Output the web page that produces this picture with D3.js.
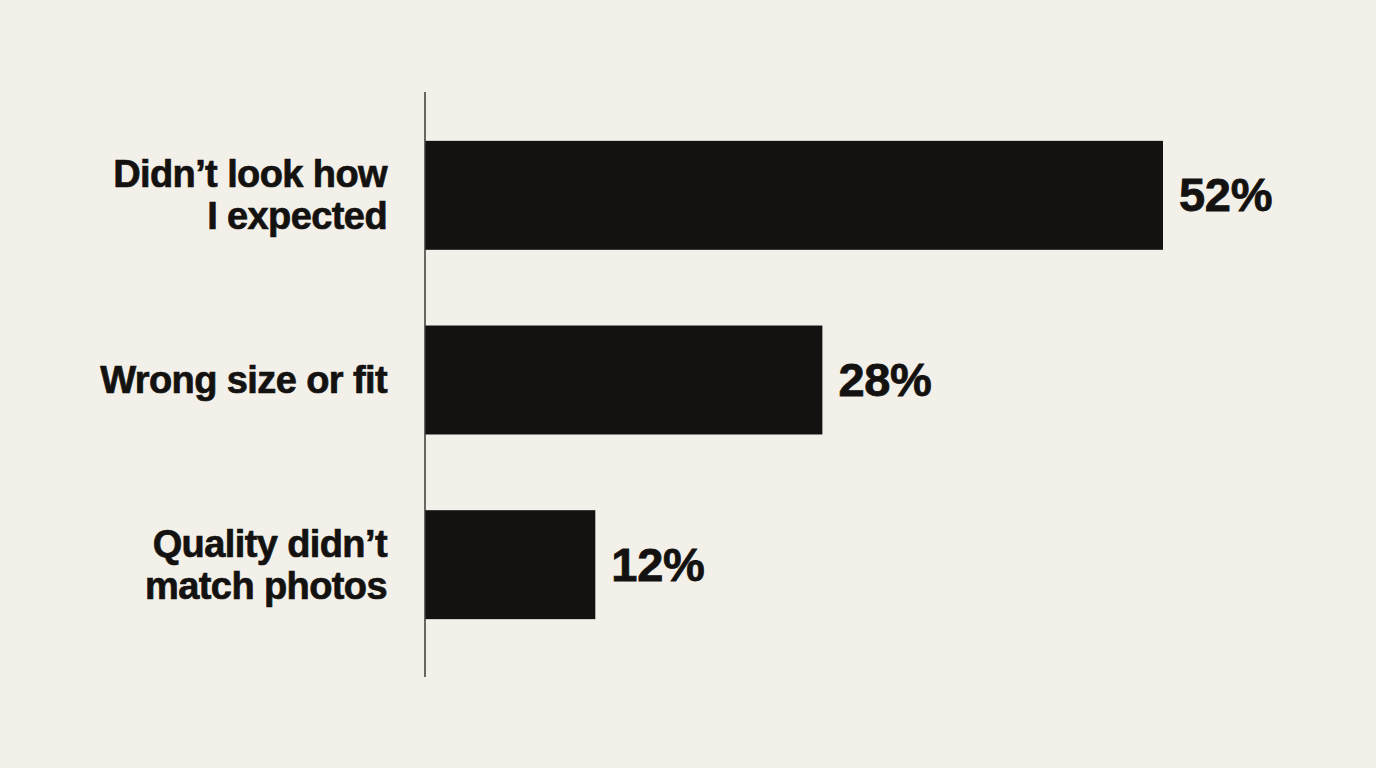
<!DOCTYPE html>
<html lang="en">
<head>
<meta charset="UTF-8">
<title>Return reasons</title>
<script src="https://d3js.org/d3.v7.min.js"></script>
<style>
    body { margin: 0; background: #f3f0e9; }
    svg { display: block; }
    .cat { font-family: "Liberation Sans", Arial, sans-serif; font-weight: 700; font-size: 38px; letter-spacing: -0.6px; fill: #141210; stroke: #141210; stroke-width: 0.7px; }
    .val { font-family: "Liberation Sans", Arial, sans-serif; font-weight: 700; font-size: 47px; letter-spacing: -0.3px; fill: #141210; stroke: #141210; stroke-width: 0.8px; }
</style>
</head>
<body>
<svg id="chart" width="1376" height="768"></svg>
<script>
// data
const categories = ["Didn\u2019t look how|I expected", "Wrong size or fit", "Quality didn\u2019t|match photos"];
const values = [52, 28, 12];
const valueLabels = ["52%", "28%", "12%"];

const svg = d3.select("#chart");
const axisX = 425;

const x = d3.scaleLinear().domain([0, 52]).range([axisX, 1163]);
const y = d3.scaleBand().domain(categories).range([103, 657]).paddingInner(0.41).paddingOuter(0.205);

svg.append("rect").attr("width", 1376).attr("height", 768).attr("fill", "#f3f0e9");

// bars
svg.selectAll("rect.bar").data(categories).enter().append("rect")
    .attr("class", "bar")
    .attr("x", x(0))
    .attr("y", d => y(d))
    .attr("width", (d, i) => x(values[i]) - x(0))
    .attr("height", y.bandwidth())
    .attr("fill", "#141210");

// vertical axis line
svg.append("line")
    .attr("x1", axisX).attr("x2", axisX)
    .attr("y1", 92).attr("y2", 677)
    .attr("stroke", "#3a3835").attr("stroke-width", 1.5);

// category labels
svg.selectAll("text.cat").data(categories).enter().append("text")
    .attr("class", "cat")
    .attr("text-anchor", "end")
    .attr("x", 387)
    .attr("y", d => y(d) + y.bandwidth() / 2)
    .each(function(d) {
        const lines = d.split("|");
        const t = d3.select(this);
        const lh = 42;
        const start = -(lines.length - 1) * lh / 2 + 13;
        lines.forEach((l, i) => {
            t.append("tspan").attr("x", 387).attr("dy", i === 0 ? start : lh).text(l);
        });
    });

// value labels
svg.selectAll("text.val").data(categories).enter().append("text")
    .attr("class", "val")
    .attr("x", (d, i) => x(values[i]) + 16)
    .attr("y", d => y(d) + y.bandwidth() / 2 + 16)
    .text((d, i) => valueLabels[i]);
</script>
</body>
</html>
